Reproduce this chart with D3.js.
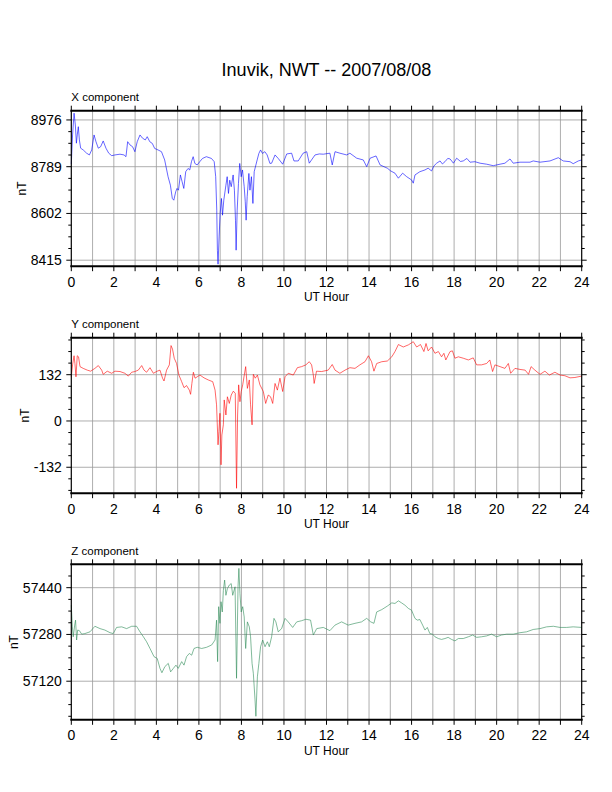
<!DOCTYPE html>
<html>
<head>
<meta charset="utf-8">
<title>Inuvik, NWT -- 2007/08/08</title>
<script src="https://d3js.org/d3.v7.min.js"></script>
<style>
    body { margin: 0; background: #fff; }
    svg { display: block; }
    text { font-family: 'Liberation Sans', Arial, sans-serif; fill: #000; }
    .grid line { stroke: #999; stroke-width: 0.8px; }
    .tick-mark { stroke: #000; stroke-width: 1px; }
</style>
</head>
<body>
<script>
// ---- data ----
const chartTitle = 'Inuvik, NWT -- 2007/08/08';
const xAxisTitle = 'UT Hour';
const yAxisTitle = 'nT';
const hourLabels = [0, 2, 4, 6, 8, 10, 12, 14, 16, 18, 20, 22, 24];

// X component (nT)
const xTimes = [0, 0.06, 0.13, 0.19, 0.24, 0.28, 0.33, 0.38, 0.44, 0.56, 0.72, 0.85, 0.96, 1.07, 1.16, 1.27, 1.38, 1.5, 1.63, 1.76, 1.9, 2.05, 2.29, 2.48, 2.57, 2.65, 2.76, 2.88, 2.99, 3.1, 3.23, 3.35, 3.48, 3.57, 3.69, 3.81, 3.92, 4.08, 4.24, 4.39, 4.55, 4.66, 4.75, 4.82, 4.91, 4.97, 5.04, 5.13, 5.21, 5.29, 5.38, 5.49, 5.57, 5.65, 5.73, 5.81, 5.92, 6.04, 6.17, 6.35, 6.59, 6.72, 6.79, 6.84, 6.87, 6.9, 6.95, 7.0, 7.06, 7.11, 7.17, 7.27, 7.33, 7.39, 7.45, 7.52, 7.61, 7.67, 7.72, 7.75, 7.8, 7.86, 7.92, 7.99, 8.05, 8.13, 8.18, 8.22, 8.27, 8.35, 8.4, 8.47, 8.54, 8.6, 8.68, 8.74, 8.82, 8.9, 8.99, 9.1, 9.21, 9.34, 9.42, 9.58, 9.73, 9.94, 10.13, 10.36, 10.47, 10.67, 10.9, 11.07, 11.19, 11.46, 11.66, 11.85, 12.16, 12.27, 12.4, 12.63, 12.95, 13.1, 13.42, 13.73, 13.89, 14.05, 14.33, 14.52, 14.86, 15.02, 15.22, 15.38, 15.58, 15.77, 16.0, 16.08, 16.16, 16.39, 16.63, 16.78, 16.94, 17.05, 17.18, 17.34, 17.45, 17.57, 17.7, 17.81, 17.97, 18.12, 18.3, 18.43, 18.6, 18.75, 18.98, 19.22, 19.53, 19.84, 20.16, 20.39, 20.63, 20.78, 21.1, 21.57, 21.72, 22.04, 22.51, 22.9, 23.13, 23.45, 23.6, 23.84, 24.0];
const xValues = [8800, 8916, 9003, 8956, 8883, 8916, 8949, 8896, 8863, 8856, 8843, 8836, 8856, 8916, 8889, 8863, 8869, 8892, 8863, 8843, 8833, 8836, 8839, 8836, 8829, 8889, 8876, 8869, 8849, 8889, 8916, 8903, 8896, 8909, 8889, 8882, 8862, 8856, 8849, 8816, 8749, 8715, 8662, 8655, 8689, 8702, 8695, 8756, 8729, 8702, 8769, 8782, 8776, 8809, 8829, 8802, 8796, 8809, 8822, 8829, 8822, 8809, 8749, 8615, 8455, 8399, 8508, 8602, 8662, 8595, 8655, 8715, 8749, 8682, 8735, 8709, 8756, 8695, 8575, 8455, 8615, 8722, 8802, 8749, 8776, 8709, 8649, 8575, 8669, 8762, 8695, 8749, 8642, 8769, 8796, 8816, 8842, 8856, 8842, 8849, 8836, 8802, 8803, 8836, 8822, 8799, 8840, 8843, 8812, 8812, 8843, 8849, 8803, 8836, 8840, 8839, 8843, 8796, 8849, 8843, 8836, 8843, 8823, 8816, 8789, 8823, 8832, 8796, 8783, 8772, 8763, 8743, 8763, 8749, 8736, 8723, 8756, 8769, 8776, 8783, 8772, 8792, 8803, 8812, 8800, 8809, 8822, 8820, 8803, 8823, 8810, 8812, 8822, 8807, 8809, 8803, 8799, 8793, 8799, 8803, 8820, 8803, 8807, 8807, 8812, 8807, 8812, 8825, 8812, 8809, 8801, 8812, 8816];

// Y component (nT)
const yTimes = [0, 0.06, 0.13, 0.17, 0.22, 0.28, 0.34, 0.41, 0.56, 0.75, 0.91, 1.11, 1.27, 1.43, 1.5, 1.69, 1.9, 2.05, 2.29, 2.52, 2.68, 2.84, 2.99, 3.15, 3.31, 3.42, 3.54, 3.7, 3.86, 4.04, 4.17, 4.29, 4.36, 4.48, 4.61, 4.69, 4.76, 4.84, 4.95, 5.06, 5.19, 5.3, 5.42, 5.55, 5.61, 5.67, 5.74, 5.82, 5.92, 6.05, 6.24, 6.44, 6.65, 6.76, 6.83, 6.9, 6.94, 6.99, 7.04, 7.08, 7.15, 7.19, 7.27, 7.34, 7.43, 7.52, 7.62, 7.71, 7.77, 7.82, 7.87, 7.93, 7.99, 8.06, 8.12, 8.2, 8.28, 8.37, 8.43, 8.5, 8.56, 8.65, 8.75, 8.87, 9.03, 9.14, 9.26, 9.37, 9.47, 9.58, 9.69, 9.81, 9.94, 10.05, 10.2, 10.44, 10.63, 10.83, 11.03, 11.19, 11.3, 11.38, 11.42, 11.53, 11.77, 12.08, 12.27, 12.4, 12.63, 12.87, 13.1, 13.34, 13.57, 13.81, 13.97, 14.12, 14.23, 14.36, 14.6, 14.86, 15.07, 15.22, 15.38, 15.61, 15.85, 16.08, 16.24, 16.42, 16.58, 16.68, 16.78, 16.94, 17.1, 17.26, 17.41, 17.52, 17.61, 17.81, 17.92, 18.04, 18.2, 18.43, 18.67, 18.9, 19.06, 19.29, 19.53, 19.68, 19.81, 19.92, 20.16, 20.39, 20.55, 20.66, 20.86, 21.1, 21.34, 21.5, 21.62, 21.8, 22.04, 22.27, 22.48, 22.74, 22.98, 23.21, 23.45, 23.68, 24.0];
const yValues = [126, 160, 186, 164, 126, 186, 183, 155, 150, 145, 142, 150, 158, 145, 133, 142, 136, 142, 141, 136, 128, 139, 141, 145, 158, 145, 139, 152, 136, 142, 145, 122, 114, 145, 160, 215, 205, 179, 164, 131, 112, 95, 101, 88, 76, 107, 139, 122, 126, 131, 123, 117, 112, 88, 46, -68, -30, 22, -125, -40, -11, 60, 17, 69, 50, 74, 85, 79, -192, 17, 103, 55, 84, 103, 126, 155, 93, 117, 46, -11, 133, 122, 131, 103, 84, 50, 74, 69, 50, 107, 88, 122, 84, 126, 136, 131, 152, 155, 160, 169, 160, 131, 107, 142, 141, 145, 161, 145, 136, 145, 152, 150, 160, 169, 186, 169, 142, 164, 169, 171, 183, 198, 218, 211, 217, 226, 211, 218, 198, 221, 200, 211, 193, 198, 183, 193, 174, 198, 200, 179, 183, 179, 174, 180, 160, 160, 164, 174, 141, 160, 155, 150, 164, 136, 150, 147, 145, 133, 155, 145, 133, 142, 131, 139, 131, 129, 123, 124, 128];

// Z component (nT)
const zTimes = [0, 0.05, 0.09, 0.16, 0.2, 0.25, 0.3, 0.38, 0.49, 0.64, 0.88, 1.11, 1.35, 1.58, 1.82, 1.97, 2.13, 2.37, 2.6, 2.84, 3.07, 3.23, 3.39, 3.54, 3.7, 3.89, 4.04, 4.17, 4.26, 4.4, 4.56, 4.67, 4.8, 4.92, 5.03, 5.19, 5.3, 5.42, 5.55, 5.66, 5.77, 5.92, 6.13, 6.36, 6.6, 6.76, 6.83, 6.88, 6.93, 6.99, 7.04, 7.1, 7.15, 7.21, 7.27, 7.34, 7.43, 7.52, 7.59, 7.7, 7.77, 7.84, 7.88, 7.93, 7.99, 8.06, 8.13, 8.2, 8.28, 8.37, 8.43, 8.5, 8.56, 8.64, 8.68, 8.75, 8.82, 8.9, 9.0, 9.11, 9.22, 9.31, 9.42, 9.53, 9.62, 9.73, 9.89, 10.05, 10.2, 10.41, 10.6, 10.83, 11.03, 11.25, 11.38, 11.54, 11.85, 12.16, 12.4, 12.71, 13.02, 13.34, 13.65, 13.89, 14.08, 14.23, 14.36, 14.6, 14.86, 15.07, 15.22, 15.38, 15.53, 15.69, 15.85, 16.0, 16.16, 16.27, 16.39, 16.52, 16.63, 16.74, 16.86, 16.99, 17.1, 17.26, 17.41, 17.57, 17.72, 17.88, 18.04, 18.2, 18.43, 18.67, 18.87, 19.06, 19.29, 19.53, 19.76, 20.0, 20.23, 20.47, 20.78, 21.1, 21.41, 21.72, 22.04, 22.35, 22.67, 22.98, 23.29, 23.6, 24.0];
const zValues = [57380, 57306, 57272, 57312, 57329, 57261, 57295, 57293, 57281, 57283, 57289, 57308, 57300, 57295, 57286, 57283, 57304, 57306, 57300, 57308, 57308, 57289, 57272, 57255, 57232, 57204, 57198, 57164, 57149, 57170, 57181, 57152, 57164, 57175, 57164, 57187, 57175, 57204, 57215, 57209, 57232, 57236, 57232, 57236, 57244, 57261, 57329, 57187, 57375, 57318, 57392, 57357, 57431, 57466, 57414, 57437, 57449, 57454, 57414, 57443, 57130, 57443, 57506, 57420, 57357, 57375, 57340, 57232, 57323, 57306, 57272, 57181, 57147, 57056, 57000, 57135, 57181, 57238, 57261, 57238, 57255, 57238, 57272, 57335, 57323, 57289, 57300, 57335, 57323, 57304, 57323, 57327, 57332, 57329, 57278, 57300, 57304, 57293, 57312, 57323, 57312, 57318, 57323, 57335, 57323, 57318, 57357, 57365, 57377, 57388, 57386, 57395, 57388, 57380, 57369, 57363, 57335, 57329, 57331, 57312, 57295, 57304, 57283, 57281, 57272, 57266, 57263, 57266, 57270, 57263, 57258, 57266, 57266, 57272, 57278, 57270, 57272, 57275, 57281, 57272, 57278, 57281, 57281, 57286, 57289, 57297, 57300, 57306, 57308, 57304, 57304, 57306, 57304];

const panelNames = ['X component', 'Y component', 'Z component'];
const panelColors = ['#0000ff', '#ff0000', '#2e8b57'];
const panelDomains = [[8391, 9013], [-206, 237.5], [56988, 57520]];
const panelSteps = [187, 132, 160];

// ---- layout ----
const width = 612, height = 792;
const left = 71.3, right = 581.7;
const panelTops = [110.7, 337.7, 564.3];
const panelHeight = 155.5;

const panels = panelNames.map((name, i) => ({
    name,
    color: panelColors[i],
    domain: panelDomains[i],
    step: panelSteps[i],
    top: panelTops[i],
    times: [xTimes, yTimes, zTimes][i],
    values: [xValues, yValues, zValues][i]
}));

const svg = d3.select('body').append('svg').attr('width', width).attr('height', height);

svg.append('text')
    .attr('x', (left + right) / 2)
    .attr('y', 76)
    .attr('text-anchor', 'middle')
    .style('font-size', '18px')
    .text(chartTitle);

const x = d3.scaleLinear().domain([0, 24]).range([left, right]);

panels.forEach((p) => {
    const bottom = p.top + panelHeight;
    const y = d3.scaleLinear().domain(p.domain).range([bottom, p.top]);
    const g = svg.append('g');

    const majors = d3.range(Math.ceil(p.domain[0] / p.step) * p.step, p.domain[1], p.step);
    const minorStep = p.step / 4;
    const minors = d3.range(Math.ceil(p.domain[0] / minorStep) * minorStep, p.domain[1], minorStep);

    // grid
    const grid = g.append('g').attr('class', 'grid');
    grid.selectAll('line.v').data(d3.range(1, 24)).join('line')
        .attr('x1', (d) => x(d)).attr('x2', (d) => x(d))
        .attr('y1', p.top).attr('y2', bottom);
    grid.selectAll('line.h').data(majors).join('line')
        .attr('x1', left).attr('x2', right)
        .attr('y1', (d) => y(d)).attr('y2', (d) => y(d));

    // data trace
    const line = d3.line().x((d) => x(d[0])).y((d) => y(d[1]));
    g.append('path')
        .datum(d3.zip(p.times, p.values))
        .attr('d', line)
        .attr('fill', 'none')
        .attr('stroke', p.color)
        .attr('stroke-width', 0.6)
        .attr('stroke-linejoin', 'round');

    // tick marks
    const ticks = g.append('g').attr('class', 'ticks');
    d3.range(0, 25).forEach((h) => {
        ticks.append('line').attr('class', 'tick-mark')
            .attr('x1', x(h)).attr('x2', x(h)).attr('y1', p.top).attr('y2', p.top - 5);
        ticks.append('line').attr('class', 'tick-mark')
            .attr('x1', x(h)).attr('x2', x(h)).attr('y1', bottom).attr('y2', bottom + 5);
    });
    minors.forEach((v) => {
        const isMajor = majors.some((m) => Math.abs(m - v) < 1e-6);
        const len = isMajor ? 5 : 3;
        ticks.append('line').attr('class', 'tick-mark')
            .attr('x1', left).attr('x2', left - len).attr('y1', y(v)).attr('y2', y(v));
        ticks.append('line').attr('class', 'tick-mark')
            .attr('x1', right).attr('x2', right + len).attr('y1', y(v)).attr('y2', y(v));
    });

    // frame
    g.append('line').attr('x1', left - 1).attr('x2', right + 1).attr('y1', p.top).attr('y2', p.top)
        .attr('stroke', '#000').attr('stroke-width', 2);
    g.append('line').attr('x1', left - 1).attr('x2', right + 1).attr('y1', bottom).attr('y2', bottom)
        .attr('stroke', '#000').attr('stroke-width', 2);
    g.append('line').attr('x1', left).attr('x2', left).attr('y1', p.top).attr('y2', bottom)
        .attr('stroke', '#000').attr('stroke-width', 1.2);
    g.append('line').attr('x1', right).attr('x2', right).attr('y1', p.top).attr('y2', bottom)
        .attr('stroke', '#000').attr('stroke-width', 1.2);

    // labels
    g.selectAll('text.xl').data(hourLabels).join('text')
        .attr('class', 'xl')
        .attr('x', (d) => x(d))
        .attr('y', bottom + 20.5)
        .attr('text-anchor', 'middle')
        .style('font-size', '14px')
        .text((d) => d);
    const yLabels = g.selectAll('text.yl').data(majors).join('text')
        .attr('class', 'yl')
        .attr('x', left - 9.5)
        .attr('y', (d) => y(d))
        .attr('dy', '0.36em')
        .attr('text-anchor', 'end')
        .style('font-size', '14px')
        .text((d) => d);

    g.append('text')
        .attr('x', left)
        .attr('y', p.top - 9.5)
        .style('font-size', '11.5px')
        .text(p.name);

    g.append('text')
        .attr('x', (left + right) / 2)
        .attr('y', bottom + 35)
        .attr('text-anchor', 'middle')
        .style('font-size', '12px')
        .text(xAxisTitle);

    // nT sits just left of the widest tick label
    const labelLeft = d3.min(yLabels.nodes(), (n) => n.getBBox().x);
    g.append('text')
        .attr('transform', `translate(${labelLeft - 5}, ${p.top + panelHeight / 2}) rotate(-90)`)
        .attr('text-anchor', 'middle')
        .style('font-size', '12px')
        .text(yAxisTitle);
});
</script>
</body>
</html>
